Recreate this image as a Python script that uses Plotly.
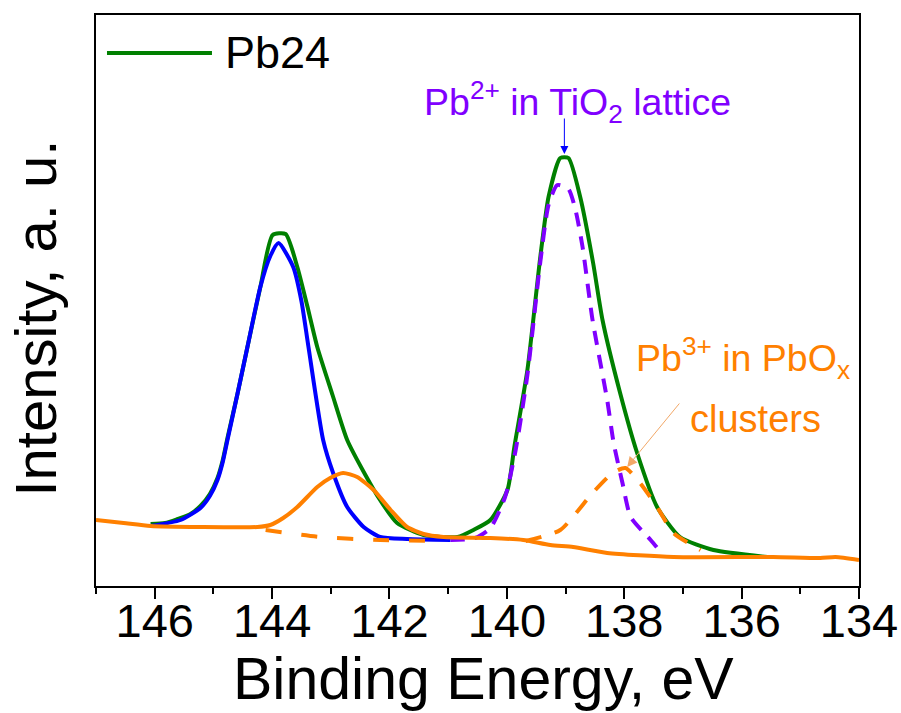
import plotly.graph_objects as go

# ---- Pb 4f XPS spectrum of sample Pb24 (binding energy in eV, intensity in a.u.) ----
env_e = [146.07, 145.82, 145.61, 145.39, 145.22, 145.06, 144.93, 144.84, 144.76, 144.59,
         144.42, 144.20, 143.99, 143.77, 143.57, 143.40, 143.23, 142.97, 142.72, 142.41,
         142.16, 141.87, 141.42, 140.84, 140.57, 140.28, 139.99, 139.87, 139.65, 139.43,
         139.29, 139.09, 138.95, 138.75, 138.53, 138.37, 138.07, 137.78, 137.44, 137.05,
         136.48, 135.56]
env_i = [62, 63, 67, 72, 80, 92, 108, 126, 148, 192,
         239, 299, 351, 352, 319, 280, 239, 191, 146, 111,
         86, 63, 51, 49, 56, 66, 96, 140, 216, 329,
         389, 428, 428, 389, 323, 266, 193, 133, 79, 49,
         36, 29]

# Pb2+ 4f5/2 component
pb2_52_e = [146.07, 145.56, 145.22, 145.06, 144.93, 144.84, 144.76, 144.59, 144.42, 144.20,
            144.03, 143.89, 143.64, 143.50, 143.38, 143.13, 142.96, 142.72, 142.44, 142.16,
            141.70, 140.96]
pb2_52_i = [60, 66, 78, 90, 106, 124, 146, 192, 239, 299,
            330, 343, 319, 285, 239, 146, 113, 79, 59, 49,
            47, 46]

# Pb2+ 4f7/2 component
pb2_72_e = [140.96, 140.54, 140.28, 140.03, 139.85, 139.65, 139.43, 139.29, 139.14, 138.95,
            138.83, 138.71, 138.54, 138.29, 138.18, 138.03, 137.89, 137.55, 137.38]
pb2_72_i = [46, 48, 58, 89, 136, 211, 324, 381, 401, 397,
            376, 339, 266, 186, 143, 103, 69, 46, 34]

# Pb3+ 4f7/2 component
pb3_72_e = [139.68, 139.09, 138.54, 138.20, 137.98, 137.73, 137.44, 137.16, 136.70]
pb3_72_i = [45, 56, 93, 113, 118, 103, 79, 53, 36]

# background beneath the Pb3+ 4f5/2 component
bg_e = [144.11, 143.18, 142.16, 141.13]
bg_i = [56, 49, 46, 45]

# background + Pb3+ 4f5/2 component
pb3_52_e = [147.0, 146.53, 146.07, 145.22, 144.25, 144.03, 143.81, 143.57, 143.23, 143.01,
            142.79, 142.55, 142.27, 141.98, 141.70, 141.42, 141.08, 140.28, 139.72, 139.26,
            138.87, 138.29, 137.16, 135.46, 134.66, 134.40, 134.0]
pb3_52_i = [66, 63, 60, 59, 59, 61, 68, 79, 99, 108,
            113, 109, 96, 76, 59, 52, 49, 48, 46, 41,
            39, 33, 29, 29, 28, 29, 26]

x_ticks = [146, 144, 142, 140, 138, 136, 134]
series_name = "Pb24"

GREEN = "#008000"
BLUE = "#0000FF"
VIOLET = "#8000FF"
ORANGE = "#FF8000"
FONT = "Liberation Sans, Arial, sans-serif"

fig = go.Figure()
fig.add_trace(go.Scatter(x=env_e, y=env_i, mode="lines", name=series_name,
                         line=dict(color=GREEN, width=4, shape="spline", smoothing=0.6)))
fig.add_trace(go.Scatter(x=pb2_52_e, y=pb2_52_i, mode="lines", showlegend=False,
                         line=dict(color=BLUE, width=4, shape="spline", smoothing=0.6)))
fig.add_trace(go.Scatter(x=pb2_72_e, y=pb2_72_i, mode="lines", showlegend=False,
                         line=dict(color=VIOLET, width=4, dash="14px,10px",
                                   shape="spline", smoothing=0.6)))
fig.add_trace(go.Scatter(x=pb3_72_e, y=pb3_72_i, mode="lines", showlegend=False,
                         line=dict(color=ORANGE, width=4, dash="16px,14px",
                                   shape="spline", smoothing=0.6)))
fig.add_trace(go.Scatter(x=bg_e, y=bg_i, mode="lines", showlegend=False,
                         line=dict(color=ORANGE, width=4, dash="16px,20px",
                                   shape="spline", smoothing=0.6)))
fig.add_trace(go.Scatter(x=pb3_52_e, y=pb3_52_i, mode="lines", showlegend=False,
                         line=dict(color=ORANGE, width=4, shape="spline", smoothing=0.6)))

annotations = [
    # axis titles
    dict(text="Binding Energy, eV", xref="paper", yref="paper", x=0.5085, y=-0.162,
         xanchor="center", yanchor="middle", showarrow=False,
         font=dict(family=FONT, size=59, color="black")),
    dict(text="Intensity, a. u.", xref="paper", yref="paper", x=-0.0799, y=0.4685,
         xanchor="center", yanchor="middle", textangle=-90, showarrow=False,
         font=dict(family=FONT, size=58, color="black")),
    # legend label
    dict(text=series_name, xref="paper", yref="paper", x=0.1664, y=0.9343,
         xanchor="left", yanchor="middle", showarrow=False,
         font=dict(family=FONT, size=45, color="black")),
    # peak labels
    dict(text="Pb<sup>2+</sup> in TiO<sub>2</sub> lattice", xref="paper", yref="paper",
         x=0.4275, y=0.8485, xanchor="left", yanchor="middle", showarrow=False,
         font=dict(family=FONT, size=37.5, color=VIOLET)),
    dict(text="", x=139.02, y=432, ax=139.02, ay=469, xref="x", yref="y",
         axref="x", ayref="y", showarrow=True, arrowhead=2, arrowsize=1.6,
         arrowwidth=1, arrowcolor=BLUE, standoff=0),
    dict(text="Pb<sup>3+</sup> in PbO<sub>x</sub>", xref="paper", yref="paper",
         x=0.7050, y=0.3993, xanchor="left", yanchor="middle", showarrow=False,
         font=dict(family=FONT, size=37.5, color=ORANGE)),
    dict(text="clusters", xref="paper", yref="paper", x=0.8644, y=0.2928,
         xanchor="center", yanchor="middle", showarrow=False,
         font=dict(family=FONT, size=38, color=ORANGE)),
    dict(text="", x=137.95, y=119, ax=137.04, ay=184, xref="x", yref="y",
         axref="x", ayref="y", showarrow=True, arrowhead=2, arrowsize=2,
         arrowwidth=1, arrowcolor="#F2A868", standoff=0),
]

fig.update_layout(
    width=901, height=713,
    margin=dict(l=96, r=42, t=15, b=127, autoexpand=False),
    paper_bgcolor="white", plot_bgcolor="white",
    showlegend=False,
    font=dict(family=FONT, color="black"),
    annotations=annotations,
    shapes=[dict(type="line", xref="paper", yref="paper",
                 x0=0.0144, x1=0.152, y0=0.9335, y1=0.9335,
                 line=dict(color=GREEN, width=4))],
    xaxis=dict(range=[147, 134], tickvals=x_ticks, ticks="outside", ticklen=11,
               tickwidth=1.5, tickcolor="black", showline=True, linecolor="black",
               linewidth=2, mirror=True, showgrid=False, zeroline=False,
               automargin=False, ticklabelstandoff=-18,
               tickfont=dict(family=FONT, size=47, color="black"),
               minor=dict(dtick=1, tick0=147, ticks="outside", ticklen=6,
                          tickwidth=1.5, tickcolor="black", showgrid=False)),
    yaxis=dict(range=[0, 571], showticklabels=False, ticks="", showline=True,
               linecolor="black", linewidth=2, mirror=True, showgrid=False,
               zeroline=False, automargin=False),
)

fig.write_html("out.html")
